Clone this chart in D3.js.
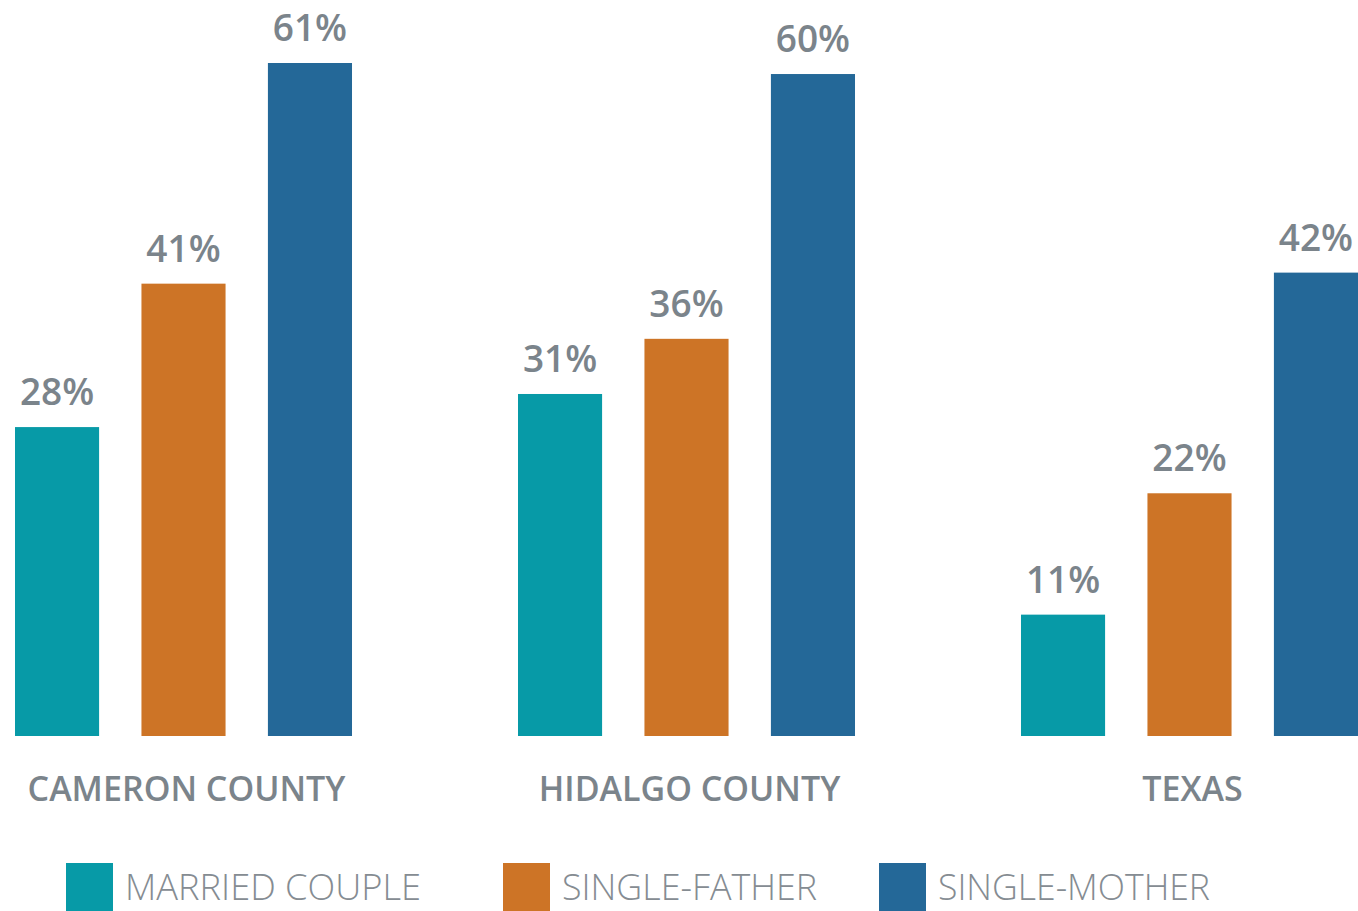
<!DOCTYPE html>
<html>
<head>
<meta charset="utf-8">
<script src="https://cdn.jsdelivr.net/npm/d3@7/dist/d3.min.js"></script>
<style>
  body { margin: 0; background: #fff; }
  svg { display: block; }
</style>
</head>
<body>
<div id="chartDiv"></div>
<script>
// data
const categories = ['CAMERON COUNTY', 'HIDALGO COUNTY', 'TEXAS'];
const seriesNames = ['MARRIED COUPLE', 'SINGLE-FATHER', 'SINGLE-MOTHER'];
const marriedCouple = [28, 31, 11];
const singleFather = [41, 36, 22];
const singleMother = [61, 60, 42];
const seriesValues = [marriedCouple, singleFather, singleMother];
const seriesColors = ['#079aa7', '#cd7426', '#246898'];

const width = 1358, height = 911;
const baseY = 736;

const svg = d3.select('#chartDiv').append('svg')
  .attr('width', width)
  .attr('height', height);

// scales
const x0 = d3.scaleBand()
  .domain(categories)
  .range([15, 1358])
  .paddingInner(0.33)
  .paddingOuter(0);

const x1 = d3.scaleBand()
  .domain(seriesNames)
  .range([0, x0.bandwidth()])
  .paddingInner(0.335)
  .paddingOuter(0);

const y = d3.scaleLinear()
  .domain([0, 61])
  .range([baseY, 63]);

const color = d3.scaleOrdinal().domain(seriesNames).range(seriesColors);

const rows = categories.map((c, i) => ({
  category: c,
  values: seriesNames.map((s, j) => ({ series: s, value: seriesValues[j][i] }))
}));

const groups = svg.selectAll('g.group')
  .data(rows)
  .enter().append('g')
  .attr('class', 'group')
  .attr('transform', d => `translate(${x0(d.category)},0)`);

groups.selectAll('rect')
  .data(d => d.values)
  .enter().append('rect')
  .attr('x', d => x1(d.series))
  .attr('width', x1.bandwidth())
  .attr('y', d => y(d.value))
  .attr('height', d => baseY - y(d.value))
  .attr('fill', d => color(d.series));

groups.selectAll('text.val')
  .data(d => d.values)
  .enter().append('text')
  .attr('class', 'val')
  .attr('x', d => x1(d.series) + x1.bandwidth() / 2)
  .attr('y', d => y(d.value) - 22)
  .attr('text-anchor', 'middle')
  .style('font-family', 'Open Sans, sans-serif')
  .style('font-weight', 600)
  .style('font-size', '37px')
  .style('fill', '#7b848b')
  .text(d => d.value + '%');

// category labels
svg.selectAll('text.cat')
  .data(categories)
  .enter().append('text')
  .attr('class', 'cat')
  .attr('x', d => x0(d) + x0.bandwidth() / 2 + 3)
  .attr('y', 801)
  .attr('text-anchor', 'middle')
  .style('font-family', 'Open Sans, sans-serif')
  .style('font-weight', 600)
  .style('font-size', '34px')
  .style('fill', '#7b848b')
  .text(d => d);

// legend
const legendX = [66, 503, 879];
const legendTextW = [296, 255, 272];
const legend = svg.selectAll('g.legend')
  .data(seriesNames)
  .enter().append('g')
  .attr('class', 'legend')
  .attr('transform', (d, i) => `translate(${legendX[i]},863)`);

legend.append('rect')
  .attr('width', 47)
  .attr('height', 48)
  .attr('fill', d => color(d));

legend.append('text')
  .attr('x', 59)
  .attr('y', 37)
  .attr('textLength', (d, i) => legendTextW[i])
  .attr('lengthAdjust', 'spacingAndGlyphs')
  .style('font-family', 'Open Sans, sans-serif')
  .style('font-weight', 300)
  .style('font-size', '37px')
  .style('fill', '#858c92')
  .text(d => d);
</script>
</body>
</html>
